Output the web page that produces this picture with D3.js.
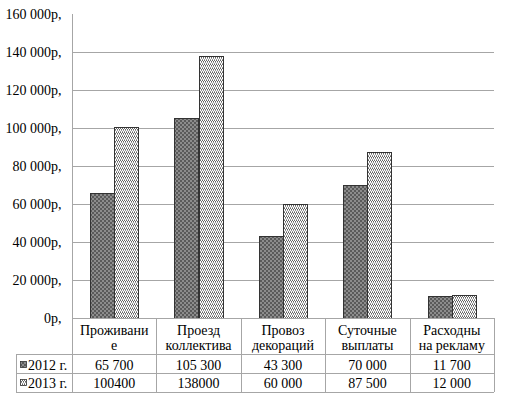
<!DOCTYPE html>
<meta charset="utf-8">
<style>
body { margin: 0; background: #fff; }
.grid line { stroke: #a6a6a6; }
.tbl line { stroke: #a6a6a6; }
</style>
<body>
<script src="https://d3js.org/d3.v7.min.js"></script>
<script>
var categories = [["Проживани", "е"], ["Проезд", "коллектива"], ["Провоз", "декораций"], ["Суточные", "выплаты"], ["Расходны", "на рекламу"]];
var series = ["2012 г.", "2013 г."];
var values2012 = [65700, 105300, 43300, 70000, 11700];
var values2013 = [100400, 138000, 60000, 87500, 12000];
var labels2012 = ["65 700", "105 300", "43 300", "70 000", "11 700"];
var labels2013 = ["100400", "138000", "60 000", "87 500", "12 000"];
var yTicks = [0, 20000, 40000, 60000, 80000, 100000, 120000, 140000, 160000];

var width = 531, height = 395;
var plotLeft = 72, plotRight = 494, plotTop = 14, zero = 318;
var catRow = 354, row1 = 373, row2 = 392, legLeft = 16;
var serif = "'Liberation Serif'";

var svg = d3.select("body").append("svg")
    .attr("width", width)
    .attr("height", height);

var defs = svg.append("defs");
// dark checker for 2012
var p1 = defs.append("pattern").attr("id", "dark")
    .attr("width", 4).attr("height", 4).attr("patternUnits", "userSpaceOnUse");
p1.append("rect").attr("width", 4).attr("height", 4).attr("fill", "#8c8c8c");
p1.append("rect").attr("width", 2).attr("height", 2).attr("fill", "#5a5a5a");
p1.append("rect").attr("x", 2).attr("y", 2).attr("width", 2).attr("height", 2).attr("fill", "#5a5a5a");
// light zigzag speckle for 2013
var p2 = defs.append("pattern").attr("id", "light")
    .attr("width", 4).attr("height", 4).attr("patternUnits", "userSpaceOnUse");
p2.append("rect").attr("width", 4).attr("height", 4).attr("fill", "#fff");
[[0, 0, "#666"], [1, 1, "#666"], [2, 0, "#666"], [3, 1, "#666"],
 [1, 2, "#999"], [2, 3, "#999"], [3, 2, "#999"], [0, 3, "#999"]].forEach(function(p) {
    p2.append("rect").attr("x", p[0]).attr("y", p[1]).attr("width", 1).attr("height", 1).attr("fill", p[2]);
});

var x = d3.scaleBand().domain(d3.range(categories.length)).range([plotLeft, plotRight]);
var y = d3.scaleLinear().domain([0, 160000]).range([zero, plotTop]);
var inner = d3.scaleBand().domain([0, 1]).range([0, x.bandwidth()]).paddingOuter(0.75).paddingInner(0);

// gridlines
svg.append("g").attr("class", "grid")
    .selectAll("line")
    .data(yTicks.filter(function(d) { return d > 0 && d < 160000; }))
    .enter().append("line")
    .attr("x1", plotLeft).attr("x2", plotRight)
    .attr("y1", function(d) { return Math.round(y(d)) + 0.5; })
    .attr("y2", function(d) { return Math.round(y(d)) + 0.5; });

// y axis
var yAxis = d3.axisLeft(y).tickValues(yTicks).tickSize(0).tickPadding(11)
    .tickFormat(function(d) { return d3.format(",")(d).replace(/,/g, " ") + "р,"; });
var ga = svg.append("g").attr("transform", "translate(" + (plotLeft + 0.5) + ",0)").call(yAxis);
ga.select(".domain").remove();
ga.selectAll("text").style("font-family", serif).style("font-size", "14px");

// bars
var data = [values2012, values2013];
var fills = ["url(#dark)", "url(#light)"];
data.forEach(function(vals, s) {
    svg.append("g").selectAll("rect")
        .data(vals)
        .enter().append("rect")
        .attr("x", function(d, i) { return Math.round(x(i) + inner(s)) + 0.5; })
        .attr("y", function(d) { return Math.round(y(d)) + 0.5; })
        .attr("width", Math.round(inner.bandwidth()))
        .attr("height", function(d) { return zero - Math.round(y(d)); })
        .attr("fill", fills[s])
        .attr("stroke", "#333")
        .attr("stroke-width", 1);
});

// table
var t = svg.append("g").attr("class", "tbl");
t.append("line").attr("x1", plotLeft + 0.5).attr("x2", plotLeft + 0.5).attr("y1", plotTop).attr("y2", row2);
t.selectAll(".v").data(d3.range(categories.length)).enter().append("line")
    .attr("x1", function(i) { return Math.round(x(i) + x.bandwidth()) + 0.5; })
    .attr("x2", function(i) { return Math.round(x(i) + x.bandwidth()) + 0.5; })
    .attr("y1", zero).attr("y2", row2);
t.append("line").attr("x1", plotLeft).attr("x2", plotRight).attr("y1", zero + 0.5).attr("y2", zero + 0.5);
[catRow, row1, row2].forEach(function(yy) {
    t.append("line").attr("x1", legLeft).attr("x2", plotRight).attr("y1", yy + 0.5).attr("y2", yy + 0.5);
});
t.append("line").attr("x1", legLeft + 0.5).attr("x2", legLeft + 0.5).attr("y1", catRow).attr("y2", row2);

var txt = svg.append("g");

// category labels
categories.forEach(function(c, i) {
    var cx = x(i) + x.bandwidth() / 2;
    c.forEach(function(line, k) {
        txt.append("text").attr("x", cx).attr("y", 335 + k * 15)
            .attr("text-anchor", "middle").text(line);
    });
});

// values rows
[labels2012, labels2013].forEach(function(labs, s) {
    var yy = s === 0 ? 370 : 388;
    labs.forEach(function(l, i) {
        txt.append("text").attr("x", x(i) + x.bandwidth() / 2).attr("y", yy)
            .attr("text-anchor", "middle").text(l);
    });
    svg.append("rect").attr("x", 20.5).attr("y", yy - 8.5).attr("width", 6).attr("height", 6)
        .attr("fill", fills[s]).attr("stroke", "#333").attr("stroke-width", 0.8);
    txt.append("text").attr("x", 28).attr("y", yy).text(series[s]);
});
txt.selectAll("text").style("font-family", serif).style("font-size", "14px");
</script>
</body>
